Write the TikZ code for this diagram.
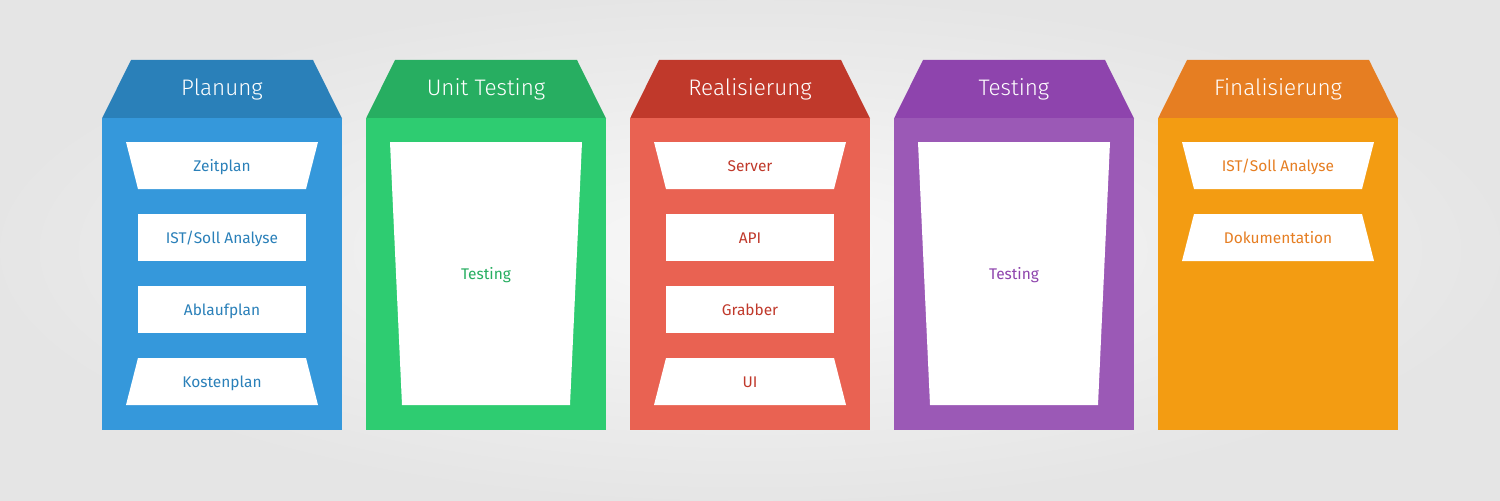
\documentclass[tikz,border=0pt]{standalone}
\usepackage{fontspec}
\setmainfont{Fira Sans}
\newfontfamily\lightfont{Fira Sans Light}
\newfontfamily\itemfont{Fira Sans}
\usetikzlibrary{positioning,calc}

\definecolor{planHead}{HTML}{2A80B9}
\definecolor{planBody}{HTML}{3598DB}
\definecolor{unitHead}{HTML}{27AE61}
\definecolor{unitBody}{HTML}{2ECC71}
\definecolor{realHead}{HTML}{C0392B}
\definecolor{realBody}{HTML}{E96252}
\definecolor{testHead}{HTML}{8E44AD}
\definecolor{testBody}{HTML}{9B59B6}
\definecolor{finHead}{HTML}{E67E22}
\definecolor{finBody}{HTML}{F39C12}

\tikzset{
  headtxt/.style={text=white, anchor=base, inner sep=0pt, font=\lightfont\fontsize{12.8}{15}\selectfont},
  itemtxt/.style={anchor=base, inner sep=0pt, font=\itemfont\fontsize{8.8}{10}\selectfont},
}

% item shapes, #1 = left edge of the column, #2 = top of the item
\newcommand\widetop[2]{\fill[white] (#1+24,#2) -- (#1+216,#2) -- (#1+204,#2+47) -- (#1+36,#2+47) -- cycle;}
\newcommand\widebot[2]{\fill[white] (#1+36,#2) -- (#1+204,#2) -- (#1+216,#2+47) -- (#1+24,#2+47) -- cycle;}
\newcommand\plainbox[2]{\fill[white] (#1+36,#2) rectangle (#1+204,#2+47);}
\newcommand\testcup[1]{\fill[white] (#1+24,142) -- (#1+216,142) -- (#1+204,405) -- (#1+36,405) -- cycle;}

\begin{document}
\begin{tikzpicture}[x=0.02cm, y=-0.02cm]

\shade[inner color=gray!5, outer color=gray!20] (0,0) rectangle (1500,500);
\useasboundingbox (0,0) rectangle (1500,500);

% the five phases
\foreach \n/\t/\hc/\bc [count=\i from 0] in {plan/Planung/planHead/planBody, unit/Unit Testing/unitHead/unitBody, real/Realisierung/realHead/realBody, test/Testing/testHead/testBody, fin/Finalisierung/finHead/finBody}{
  \pgfmathsetmacro\xl{102+264*\i}
  \fill[\hc] (\xl+29,60) -- (\xl+211,60) -- (\xl+240,118.5) -- (\xl,118.5) -- cycle;
  \fill[\bc] (\xl,118) rectangle (\xl+240,430);
  \node[headtxt] (\n-head) at (\xl+120,95) {\t};
}

% Planung
\widetop{102}{142}
\plainbox{102}{214}
\plainbox{102}{286}
\widebot{102}{358}
\node[itemtxt, text=planHead] (plan-zeit) at (222,171) {Zeitplan};
\node[itemtxt, text=planHead] (plan-ist) at (222,243) {IST/Soll Analyse};
\node[itemtxt, text=planHead] (plan-ablauf) at (222,315) {Ablaufplan};
\node[itemtxt, text=planHead] (plan-kosten) at (222,387) {Kostenplan};

% Unit Testing
\testcup{366}
\node[itemtxt, text=unitHead] (unit-test) at (486,279) {Testing};

% Realisierung
\widetop{630}{142}
\plainbox{630}{214}
\plainbox{630}{286}
\widebot{630}{358}
\node[itemtxt, text=realHead] (real-server) at (750,171) {Server};
\node[itemtxt, text=realHead] (real-api) at (750,243) {API};
\node[itemtxt, text=realHead] (real-grab) at (750,315) {Grabber};
\node[itemtxt, text=realHead] (real-ui) at (750,387) {UI};

% Testing
\testcup{894}
\node[itemtxt, text=testHead] (test-test) at (1014,279) {Testing};

% Finalisierung
\widetop{1158}{142}
\widebot{1158}{214}
\node[itemtxt, text=finHead] (fin-ist) at (1278,171) {IST/Soll Analyse};
\node[itemtxt, text=finHead] (fin-doku) at (1278,243) {Dokumentation};

\end{tikzpicture}
\end{document}
